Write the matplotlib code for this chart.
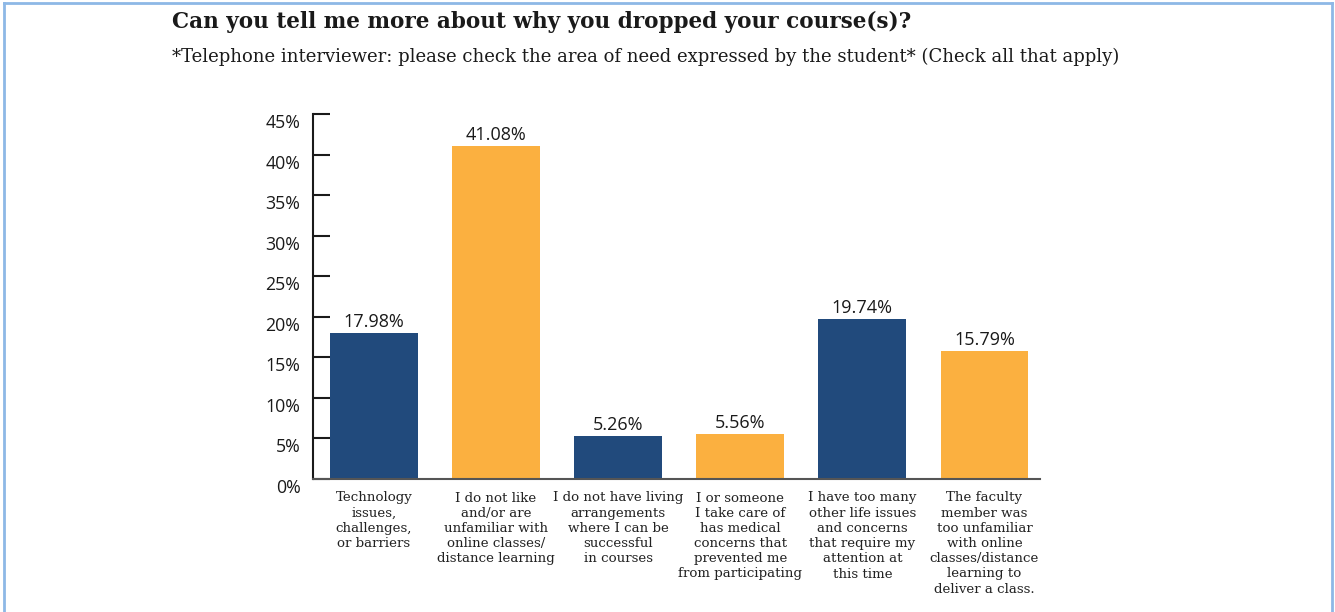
import matplotlib
matplotlib.use("Agg")
import matplotlib.pyplot as plt
from matplotlib.ticker import FuncFormatter
from matplotlib.transforms import ScaledTranslation

# Survey responses: reasons students gave for dropping a course
categories = [
    "Technology\nissues,\nchallenges,\nor barriers",
    "I do not like\nand/or are\nunfamiliar with\nonline classes/\ndistance learning",
    "I do not have living\narrangements\nwhere I can be\nsuccessful\nin courses",
    "I or someone\nI take care of\nhas medical\nconcerns that\nprevented me\nfrom participating",
    "I have too many\nother life issues\nand concerns\nthat require my\nattention at\nthis time",
    "The faculty\nmember was\ntoo unfamiliar\nwith online\nclasses/distance\nlearning to\ndeliver a class.",
]
percentages = [17.98, 41.08, 5.26, 5.56, 19.74, 15.79]
value_labels = ["17.98%", "41.08%", "5.26%", "5.56%", "19.74%", "15.79%"]
y_ticks = [0, 5, 10, 15, 20, 25, 30, 35, 40, 45]

title = "Can you tell me more about why you dropped your course(s)?"
subtitle = ("*Telephone interviewer: please check the area of need expressed "
            "by the student* (Check all that apply)")

NAVY = "#214A7C"
GOLD = "#FBB040"
bar_colors = [NAVY, GOLD, NAVY, GOLD, NAVY, GOLD]

SANS = ["Open Sans", "DejaVu Sans"]
SERIF = ["DejaVu Serif"]

W, H = 1335, 612
fig = plt.figure(figsize=(W / 100, H / 100), dpi=100)
fig.patch.set_facecolor("white")

# light blue frame around the panel (open at the bottom)
frame_color = "#8DB8E6"
fx0, fx1, fy = 4 / W, 1332 / W, 1 - 3 / H
for xs, ys in (([fx0, fx0], [0, fy]), ([fx0, fx1], [fy, fy]), ([fx1, fx1], [0, fy])):
    fig.add_artist(plt.Line2D(xs, ys, transform=fig.transFigure,
                              color=frame_color, lw=2))

fig.text(172 / W, 1 - 22 / H, title, fontsize=15.5, fontweight="bold",
         family=SERIF, color="#1a1a1a", ha="left", va="center")
fig.text(172 / W, 1 - 57 / H, subtitle, fontsize=12.95,
         family=SERIF, color="#1a1a1a", ha="left", va="center")

left, right = 313 / W, 1040 / W
bottom, top = 1 - 479 / H, 1 - 114 / H
ax = fig.add_axes([left, bottom, right - left, top - bottom])

x = list(range(len(categories)))
bars = ax.bar(x, percentages, width=0.72, color=bar_colors, zorder=2)

for bar, label in zip(bars, value_labels):
    ax.annotate(label, (bar.get_x() + bar.get_width() / 2, bar.get_height()),
                xytext=(0, 1.5), textcoords="offset points", ha="center",
                va="bottom", fontsize=13, family=SANS, color="#1a1a1a")

ax.set_xlim(-0.5, 5.455)
ax.set_ylim(0, 45)
ax.set_yticks(y_ticks)
ax.yaxis.set_major_formatter(FuncFormatter(lambda v, _: f"{v:.0f}%"))
ax.tick_params(axis="y", direction="in", length=12.5, width=1.5, color="#1a1a1a",
               labelsize=12.8, pad=9)
# percentage labels sit slightly below their tick marks
shift_down = ScaledTranslation(0, -7 / 100, fig.dpi_scale_trans)
for tick in ax.yaxis.get_major_ticks():
    lbl = tick.label1
    lbl.set_family(SANS)
    lbl.set_color("#1a1a1a")
    lbl.set_transform(lbl.get_transform() + shift_down)

ax.set_xticks(x)
ax.set_xticklabels(categories, family=SERIF, fontsize=9.6, color="#222222",
                   linespacing=1.22, va="top")
ax.tick_params(axis="x", length=0, pad=9)

for s in ("top", "right"):
    ax.spines[s].set_visible(False)
ax.spines["left"].set_color("#1a1a1a")
ax.spines["left"].set_linewidth(1.5)
ax.spines["bottom"].set_color("#555555")
ax.spines["bottom"].set_linewidth(1.5)

fig.savefig("out.png", dpi=100)
